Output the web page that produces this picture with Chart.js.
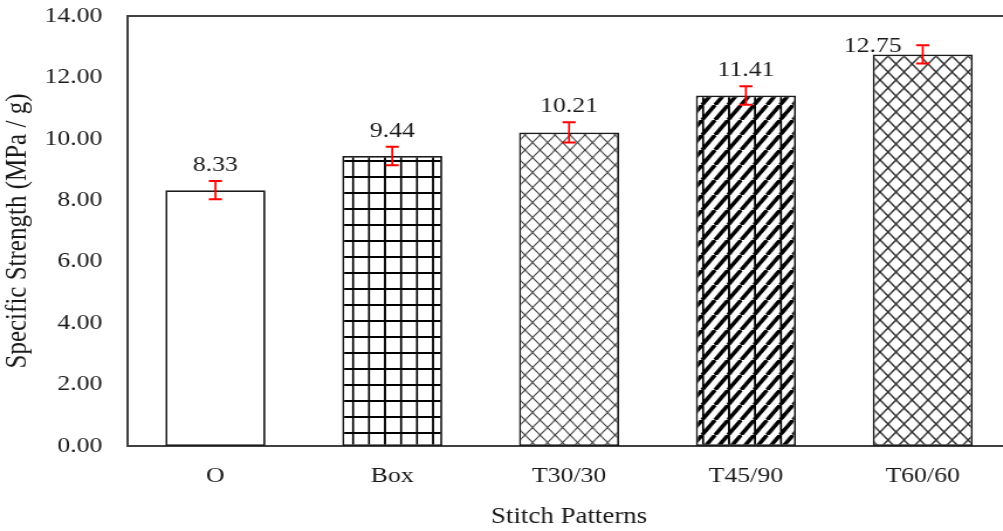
<!DOCTYPE html>
<html>
<head>
<meta charset="utf-8">
<script src="https://cdn.jsdelivr.net/npm/chart.js@4.4.1/dist/chart.umd.min.js"></script>
<style>
  html, body { margin: 0; padding: 0; background: #fff; overflow: hidden; width: 1003px; height: 531px; }
  #wrap { width: 864px; height: 531px; transform: scaleX(1.1703); transform-origin: 0 0; }
</style>
</head>
<body>
<div id="wrap"><canvas id="c" width="864" height="531"></canvas></div>
<script>
// ---- data ----
const categories = ['O', 'Box', 'T30/30', 'T45/90', 'T60/60'];
const strength = [8.33, 9.44, 10.21, 11.41, 12.75];
const errors = [0.30, 0.30, 0.33, 0.30, 0.30];
const yTicks = [0, 2, 4, 6, 8, 10, 12, 14];
const xTitle = 'Stitch Patterns';
const yTitle = 'Specific Strength (MPa / g)';

// ---- styling ----
const S = 1.1703; // horizontal stretch of the page
const FONT = 'Liberation Serif';
const FS = 22;
const TEXT = '#1a1a1a';
const canvas = document.getElementById('c');
const ctx = canvas.getContext('2d');

function makePattern(w, h, draw) {
  const c = document.createElement('canvas');
  c.width = w; c.height = h;
  const g = c.getContext('2d');
  g.fillStyle = '#fff';
  g.fillRect(0, 0, w, h);
  draw(g, w, h);
  const p = ctx.createPattern(c, 'repeat');
  p.setTransform(new DOMMatrix().scale(1 / S, 1));
  return p;
}
const gridPat = makePattern(16, 16, (g) => {
  g.fillStyle = '#000';
  g.fillRect(0, 0, 2, 16);
  g.fillRect(0, 0, 16, 2);
});
function diamond(size, lw, col) {
  return makePattern(size, size, (g) => {
    g.strokeStyle = col; g.lineWidth = lw;
    for (let k = -1; k <= 1; k++) {
      g.beginPath();
      g.moveTo(k * size, 0); g.lineTo(k * size + size, size);
      g.moveTo(k * size, size); g.lineTo(k * size + size, 0);
      g.stroke();
    }
  });
}
const diamondThin = diamond(15, 1.2, '#333');
const diamondThick = diamond(16, 1.5, '#222');
const diagPat = makePattern(26, 15, (g) => {
  g.strokeStyle = '#000'; g.lineWidth = 4;
  for (let x0 = -26; x0 <= 39; x0 += 13) {
    g.beginPath(); g.moveTo(x0, 15); g.lineTo(x0 + 13, 0); g.stroke();
  }
  g.fillStyle = '#000';
  g.fillRect(0, 0, 2, 15);
});
const fills = ['#ffffff', gridPat, diamondThin, diagPat, diamondThick];

const errorBars = {
  id: 'errorBars',
  afterDatasetsDraw(chart) {
    const meta = chart.getDatasetMeta(0);
    const ys = chart.scales.y;
    const c = chart.ctx;
    c.save();
    c.strokeStyle = '#ff0000';
    meta.data.forEach((bar, i) => {
      const v = strength[i], e = errors[i];
      const yt = ys.getPixelForValue(v + e), yb = ys.getPixelForValue(v - e);
      const hw = 5.6;
      c.lineWidth = 1.7;
      c.beginPath(); c.moveTo(bar.x, yt); c.lineTo(bar.x, yb); c.stroke();
      c.lineWidth = 2;
      c.beginPath();
      c.moveTo(bar.x - hw, yt); c.lineTo(bar.x + hw, yt);
      c.moveTo(bar.x - hw, yb); c.lineTo(bar.x + hw, yb);
      c.stroke();
    });
    c.restore();
  }
};
const valueLabels = {
  id: 'valueLabels',
  afterDatasetsDraw(chart) {
    const meta = chart.getDatasetMeta(0);
    const ys = chart.scales.y;
    const area = chart.chartArea;
    const c = chart.ctx;
    c.save();
    c.font = FS + 'px "' + FONT + '"';
    c.fillStyle = TEXT;
    c.textAlign = 'center';
    c.textBaseline = 'alphabetic';
    meta.data.forEach((bar, i) => {
      const txt = strength[i].toFixed(2);
      let x = bar.x;
      let y = ys.getPixelForValue(strength[i] + errors[i]) - 10;
      if (y - 15 < area.top + 12) {
        x = bar.x - bar.width / 2;
        y = bar.y - 2;
      }
      c.fillText(txt, x, y);
    });
    c.restore();
  }
};
const frameTop = {
  id: 'frameTop',
  afterDraw(chart) {
    const a = chart.chartArea;
    const c = chart.ctx;
    c.save();
    c.strokeStyle = '#404040';
    c.lineWidth = 2;
    c.beginPath(); c.moveTo(a.left, a.top); c.lineTo(a.right + 2, a.top); c.stroke();
    c.restore();
  }
};

new Chart(ctx, {
  type: 'bar',
  data: {
    labels: categories,
    datasets: [{
      data: strength,
      backgroundColor: fills,
      borderColor: '#1a1a1a',
      borderWidth: 1.8,
      borderSkipped: false,
      barPercentage: 0.566,
      categoryPercentage: 1.0
    }]
  },
  options: {
    responsive: false,
    animation: false,
    devicePixelRatio: 1,
    layout: { padding: { top: 16, right: 0, left: 0, bottom: 0 } },
    plugins: { legend: { display: false }, tooltip: { enabled: false } },
    scales: {
      x: {
        grid: { display: false, drawTicks: false },
        border: { display: true, color: '#404040', width: 2 },
        ticks: { color: TEXT, font: { family: FONT, size: FS }, padding: 17 },
        title: { display: true, text: xTitle, color: TEXT, font: { family: FONT, size: 23 }, padding: { top: 0, bottom: 0 } },
        afterFit(s) { s.height = 85; s.paddingLeft = 0; s.paddingRight = 0; }
      },
      y: {
        min: yTicks[0],
        max: yTicks[yTicks.length - 1],
        afterBuildTicks(s) { s.ticks = yTicks.map(v => ({ value: v })); },
        grid: { display: false, drawTicks: false },
        border: { display: true, color: '#404040', width: 2 },
        ticks: { color: TEXT, font: { family: FONT, size: FS }, padding: 21, callback: v => Number(v).toFixed(2) },
        title: { display: true, text: yTitle, color: TEXT, font: { family: FONT, size: 25 }, padding: { top: 0, bottom: 0 } },
        afterFit(s) { s.width = 108.5; s.paddingTop = 0; s.paddingBottom = 0; }
      }
    }
  },
  plugins: [errorBars, valueLabels, frameTop]
});
</script>
</body>
</html>
